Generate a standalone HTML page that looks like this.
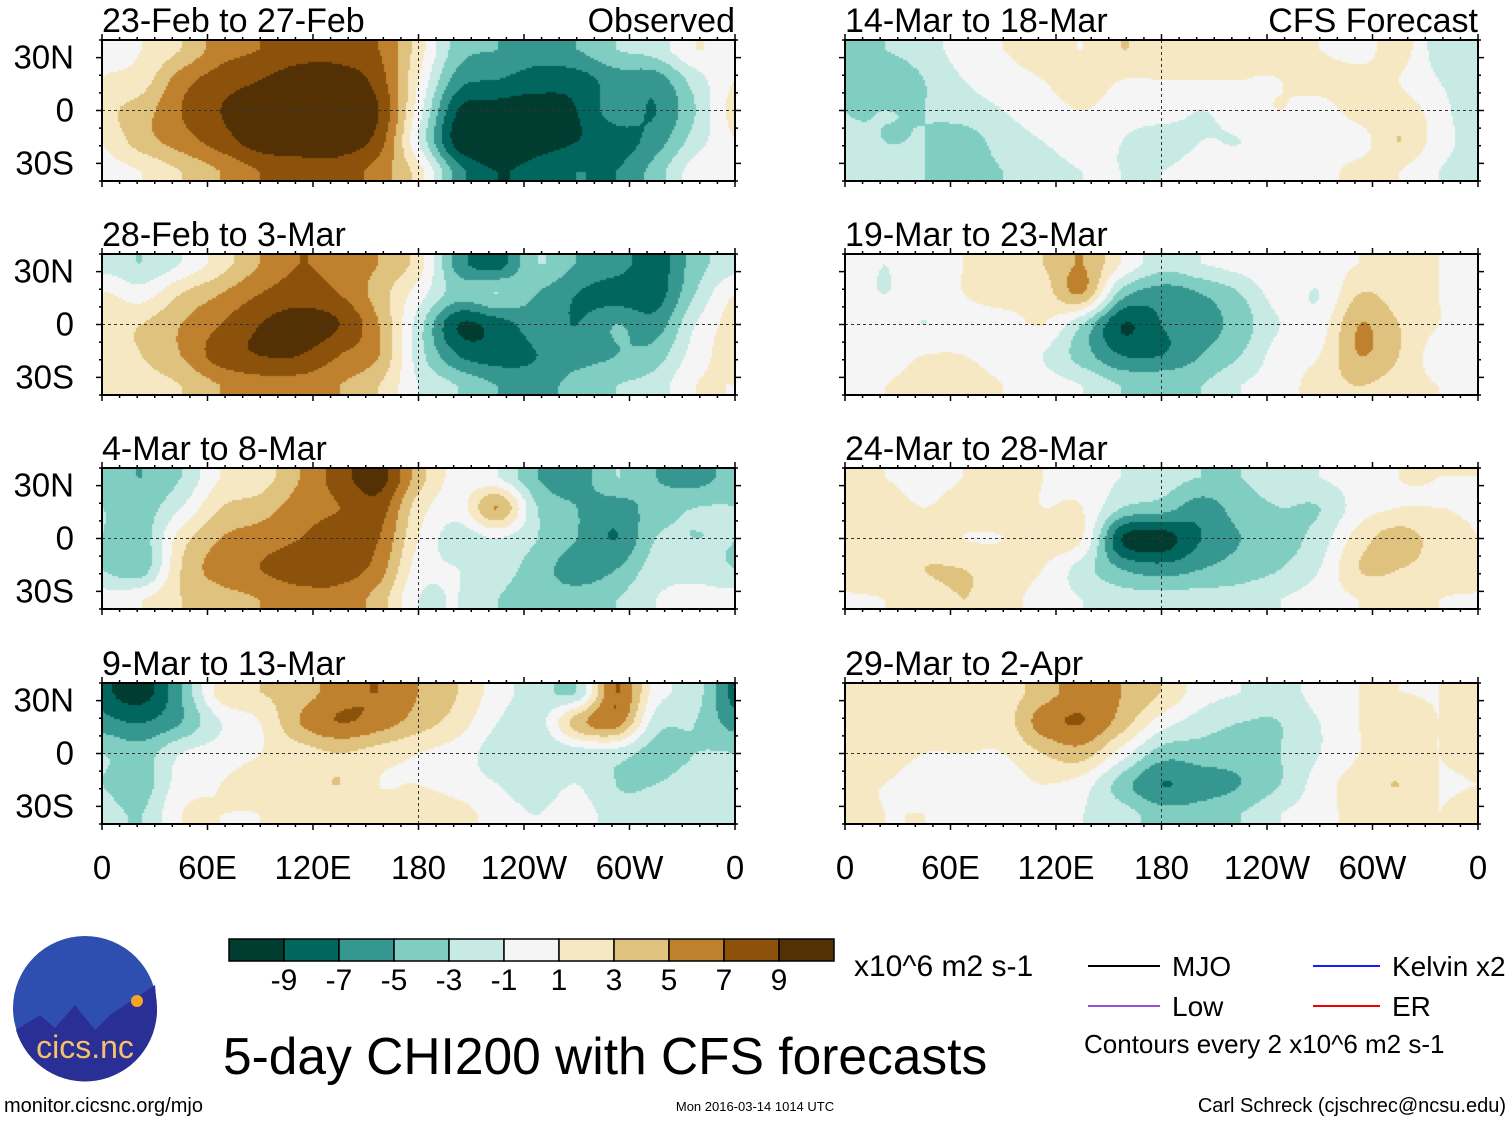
<!DOCTYPE html>
<html><head><meta charset="utf-8">
<style>
body{margin:0;background:#fff;width:1510px;height:1121px;overflow:hidden;position:relative;font-family:"Liberation Sans",sans-serif;}
canvas{position:absolute;}
</style></head>
<body>
<svg id="ov" width="1510" height="1121" style="position:absolute;left:0;top:0"></svg>
<script>
// Longitudes of grid columns (deg E) and latitudes of grid rows
const lons=[0,22.5,45,67.5,90,112.5,135,157.5,180,202.5,225,247.5,270,292.5,315,337.5];
const lats=[35,17.5,0,-17.5,-35];
const titles=["23-Feb to 27-Feb","28-Feb to 3-Mar","4-Mar to 8-Mar","9-Mar to 13-Mar","14-Mar to 18-Mar","19-Mar to 23-Mar","24-Mar to 28-Mar","29-Mar to 2-Apr"];
const classColors=["#003c30","#01665e","#35978f","#80cdc1","#c7eae5","#f5f5f5","#f6e8c3","#dfc27d","#bf812d","#8c510a","#543005"];
const cbLabels=["-9","-7","-5","-3","-1","1","3","5","7","9"];
const xTickLabels=["0","60E","120E","180","120W","60W","0"];
const yTickLabels=["30N","0","30S"];
// each panel: per longitude column values at [35N,17N,0,17S,35S]
const p1=[[0,1,2,1,0],[1,2,4,4,1],[3,6,7,6,3],[6,8,9,8,5],[7,9,10,10,7],[8,10,10,10,8],[8,10,10,10,8],[7,8,9,8,6],[2,1,0,-1,2],[-4,-6,-9,-10,-6],[-5,-7,-10,-11,-9],[-6,-8,-10,-10,-8],[-5,-8,-9,-9,-7],[-3,-6,-6,-8,-7],[-2,-6,-7,-6,-4],[1,-2,-3,-2,0]];
const p2=[[-2,1,2,2,1],[-3,0,3,3,2],[-1,3,5,5,3],[2,5,7,8,5],[5,7,9,9,6],[7,8,10,9,6],[6,7,9,7,5],[5,4,5,5,3],[2,0,-2,-2,-1],[-6,-4,-9,-7,-3],[-8,-3,-8,-8,-5],[-3,-5,-6,-7,-6],[-5,-7,-7,-6,-4],[-6,-8,-5,-5,-3],[-8,-8,-6,-4,-2],[-4,-3,-1,0,1]];
const p3=[[-4,-3,-3,-3,0],[-5,-4,-4,-4,1],[-3,-1,2,3,3],[1,3,5,6,4],[2,4,6,7,5],[5,6,7,8,6],[8,7,8,8,6],[10,8,7,6,4],[4,2,1,0,-1],[0,0,-2,-1,-1],[-1,5,-1,-2,-3],[-5,-3,-3,-4,-4],[-6,-5,-5,-6,-4],[-3,-6,-7,-5,-3],[-5,-4,-3,-2,-1],[-6,-3,-3,-2,0]];
const p4=[[-8,-6,-3,-3,-2],[-10,-7,-4,-4,-3],[-5,-5,-1,0,1],[2,-1,0,1,1],[3,1,1,2,1],[4,5,2,2,2],[6,7,3,3,2],[7,6,2,1,2],[5,4,1,1,3],[3,2,0,0,2],[0,-1,-2,-1,0],[-2,-2,-3,-2,-1],[-3,4,-2,-1,0],[7,6,-2,-3,-2],[0,-2,-4,-3,-2],[-2,-3,-3,-2,-1]];
const p5=[[-3,-3,-3,-2,-2],[-3,-4,-3,-3,-2],[-2,-3,-3,-3,-3],[0,-1,-2,-4,-4],[1,0,-1,-2,-3],[2,1,0,-1,-2],[1,2,1,0,-1],[3,1,0,-1,-1],[2,1,0,-2,-1],[2,1,-1,-1,0],[1,1,0,-1,0],[2,1,1,0,1],[1,2,0,-1,0],[0,2,2,0,2],[2,1,2,3,1],[-2,-1,0,0,-1]];
const p6=[[0,0,0,0,1],[-1,-1,0,0,1],[0,0,-1,1,2],[1,1,0,1,2],[2,2,0,0,1],[3,2,1,-1,0],[5,5,-3,-4,-1],[1,-4,-9,-7,-3],[-2,-6,-7,-7,-3],[-1,-5,-6,-5,-3],[0,-3,-4,-3,-1],[1,0,-1,0,0],[0,-1,0,1,2],[1,3,5,5,3],[2,2,3,3,2],[1,1,1,0,1]];
const p7=[[1,1,1,1,1],[1,2,2,2,1],[0,1,2,3,2],[1,2,1,3,3],[2,2,1,2,2],[1,1,2,1,0],[0,1,1,-2,-1],[-1,-3,-9,-5,-2],[-2,-4,-10,-6,-2],[-3,-6,-7,-5,-2],[-3,-4,-5,-4,-2],[-2,-3,-4,-3,-1],[-1,-3,-2,-1,0],[0,0,2,3,1],[1,1,4,3,2],[1,1,2,2,1]];
const p8=[[2,2,2,1,2],[2,2,2,1,1],[1,2,1,0,1],[2,2,1,0,0],[2,2,1,0,0],[4,6,3,1,0],[6,7,4,0,-1],[5,4,0,-4,-2],[3,0,-4,-7,-4],[0,-2,-4,-6,-4],[-1,-3,-4,-5,-3],[-2,-3,-3,-3,-1],[0,-1,-1,0,0],[1,1,1,2,2],[1,2,2,3,2],[1,1,1,1,1]];
const panels=[p1,p2,p3,p4,p5,p6,p7,p8];

const NS='http://www.w3.org/2000/svg';
const ov=document.getElementById('ov');
const PW=633,PH=141;
const panelX=[102,102,102,102,845,845,845,845];
const panelY=[40,254,468,683,40,254,468,683];
function xScale(lon){return lon/360*PW;}
function yScale(lat){return (40-lat)/80*PH;}
function cr(p0,p1_,p2,p3,t){return 0.5*((2*p1_)+(-p0+p2)*t+(2*p0-5*p1_+4*p2-p3)*t*t+(-p0+3*p1_-3*p2+p3)*t*t*t);}
function val(d,lon,lat){
  const nc=lons.length, step=360/nc;
  let fi=((lon%360)+360)%360/step; let i=Math.floor(fi), tx=fi-i;
  let fj=(lats[0]-lat)/(lats[0]-lats[1]); fj=Math.max(0,Math.min(lats.length-1,fj));
  let j=Math.min(Math.floor(fj),lats.length-2), ty=fj-j;
  const g=(ii,jj)=>d[((ii%nc)+nc)%nc][Math.max(0,Math.min(lats.length-1,jj))];
  const r=[];
  for(let k=-1;k<=2;k++) r.push(cr(g(i-1,j+k),g(i,j+k),g(i+1,j+k),g(i+2,j+k),tx));
  return cr(r[0],r[1],r[2],r[3],ty);
}
function cls(v){return Math.max(0,Math.min(10,Math.floor((v+9)/2)+1));}
function mk(tag,attrs,name){const e=document.createElementNS(NS,tag);for(const k in attrs)e.setAttribute(k,attrs[k]);
  
  
  ov.appendChild(e);return e;}
function txt(s,x,y,size,anchor,name){const e=mk('text',{x:x,y:y,'font-size':size,'text-anchor':anchor||'start','font-family':'Liberation Sans, sans-serif'},name);e.textContent=s;return e;}

panels.forEach((d,pi)=>{
  const cv=document.createElement('canvas');cv.width=PW;cv.height=PH;
  cv.style.left=panelX[pi]+'px';cv.style.top=panelY[pi]+'px';
  
  
  document.body.insertBefore(cv,ov);
  const c=cv.getContext('2d');const s=2;
  for(let y=0;y<PH;y+=s)for(let x=0;x<PW;x+=s){
    const lon=(x+s/2)/PW*360, lat=40-(y+s/2)/PH*80;
    c.fillStyle=classColors[cls(val(d,lon,lat))];c.fillRect(x,y,s,s);
  }
  const X=panelX[pi],Y=panelY[pi];
  mk('line',{x1:X,x2:X+PW,y1:Y+yScale(0),y2:Y+yScale(0),stroke:'#333','stroke-dasharray':'3,3','stroke-width':1},'equator-line');
  mk('line',{x1:X+xScale(180),x2:X+xScale(180),y1:Y,y2:Y+PH,stroke:'#333','stroke-dasharray':'3,3','stroke-width':1},'dateline');
  mk('rect',{x:X,y:Y,width:PW,height:PH,fill:'none',stroke:'#000','stroke-width':2},'panel-frame');
  for(let l=0;l<=360;l+=10){const maj=l%60===0;const L=maj?6:3;
    mk('line',{x1:X+xScale(l),x2:X+xScale(l),y1:Y,y2:Y-L,stroke:'#000','stroke-width':1.5},'tick-top');
    mk('line',{x1:X+xScale(l),x2:X+xScale(l),y1:Y+PH,y2:Y+PH+L,stroke:'#000','stroke-width':1.5},'tick-bottom');}
  for(let l=-40;l<=40;l+=10){const L=l%30===0?6:3;
    mk('line',{x1:X,x2:X-L,y1:Y+yScale(l),y2:Y+yScale(l),stroke:'#000','stroke-width':1.5},'tick-left');
    mk('line',{x1:X+PW,x2:X+PW+L,y1:Y+yScale(l),y2:Y+yScale(l),stroke:'#000','stroke-width':1.5},'tick-right');}
  txt(titles[pi],X,Y-8,34,'start','panel-title');
  if(pi<4){[30,0,-30].forEach((l,k)=>txt(yTickLabels[k],74,Y+yScale(l)+11,33,'end','y-tick-label'));}
});
txt('Observed',735,32,34,'end','observed-label');
txt('CFS Forecast',1478,32,34,'end','forecast-label');
[102,845].forEach(X=>xTickLabels.forEach((s,k)=>txt(s,X+xScale(k*60),879,33,'middle','x-tick-label')));
classColors.forEach((col,k)=>mk('rect',{x:229+k*55,y:939,width:55,height:22,fill:col,stroke:'#000','stroke-width':1.5},'colorbar-box'));
cbLabels.forEach((s,k)=>txt(s,229+(k+1)*55,990,30,'middle','colorbar-label'));
txt('x10^6 m2 s-1',854,976,30,'start','units-label');
mk('line',{x1:1088,x2:1160,y1:966,y2:966,stroke:'#000','stroke-width':2},'legend-mjo-line');txt('MJO',1172,976,28,'start','legend-mjo');
mk('line',{x1:1088,x2:1160,y1:1006,y2:1006,stroke:'#9b4fd8','stroke-width':2},'legend-low-line');txt('Low',1172,1016,28,'start','legend-low');
mk('line',{x1:1313,x2:1380,y1:966,y2:966,stroke:'#1a1aff','stroke-width':2},'legend-kelvin-line');txt('Kelvin x2',1392,976,28,'start','legend-kelvin');
mk('line',{x1:1313,x2:1380,y1:1006,y2:1006,stroke:'#e00','stroke-width':2},'legend-er-line');txt('ER',1392,1016,28,'start','legend-er');
txt('Contours every 2 x10^6 m2 s-1',1084,1053,26,'start','contour-note');
txt('5-day CHI200 with CFS forecasts',223,1074,51.5,'start','main-title');
mk('circle',{cx:85,cy:1008,r:72,fill:'#2f4fb0'},'logo-circle');
mk('path',{d:'M16,1030 L40,1015 L55,1028 L75,1005 L95,1030 L110,1015 L155,985 L157,1008 A72,72 0 0 1 16,1030 Z',fill:'#2a2f95'},'logo-mountains');
mk('circle',{cx:137,cy:1001,r:6,fill:'#f5a623'},'logo-sun');
const lg=txt('cics.nc',85,1058,32,'middle','logo-text');lg.setAttribute('fill','#f5c16c');
txt('monitor.cicsnc.org/mjo',4,1112,20,'start','footer-url');
txt('Mon 2016-03-14 1014 UTC',755,1111,13,'middle','footer-date');
txt('Carl Schreck (cjschrec@ncsu.edu)',1506,1112,20,'end','footer-author');
</script>
</body></html>
